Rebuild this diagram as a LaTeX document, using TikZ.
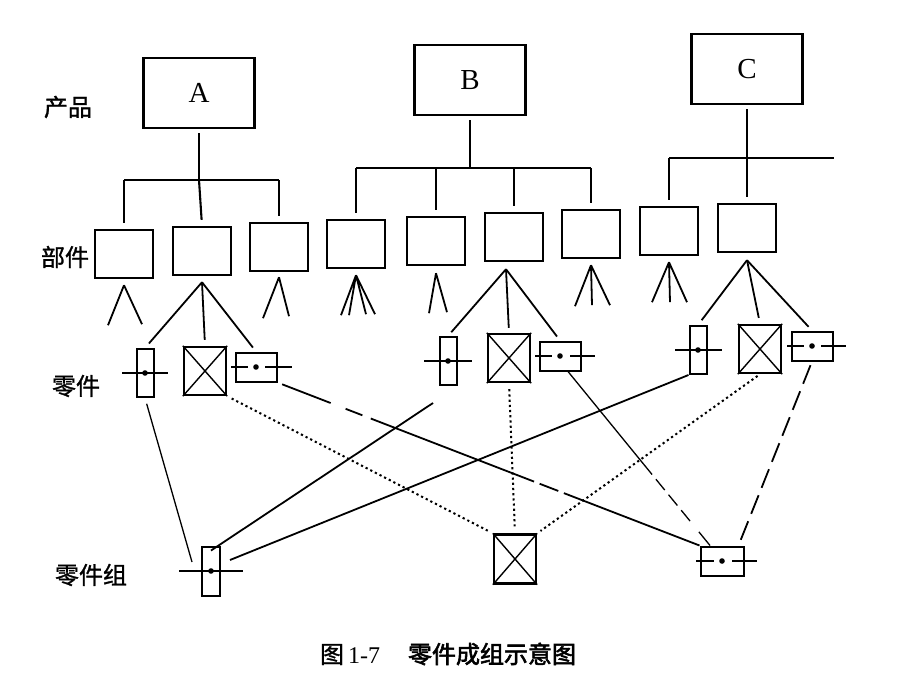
\documentclass[tikz,border=0pt]{standalone}
\usepackage{fontspec}
\setmainfont{Liberation Serif}
\newfontfamily\cjk{Noto Sans CJK SC}[FakeBold=1.2]
\newfontfamily\cjkbf{Noto Sans CJK SC}[FakeBold=2.4]

\begin{document}
\begin{tikzpicture}[x=1pt,y=-1pt]

\useasboundingbox (0,0) rectangle (920,690);
\tikzset{product/.style = {shape=rectangle,draw,line width=2.4pt,minimum width=111pt,minimum height=70pt,font=\fontsize{29}{30}\selectfont}}
\tikzset{unit/.style = {shape=rectangle,draw,line width=2.4pt,minimum width=58pt,minimum height=48pt}}
\tikzset{vpart/.style = {shape=rectangle,draw,line width=2pt,inner sep=0pt,minimum width=17pt,minimum height=48pt}}
\tikzset{xpart/.style = {shape=rectangle,draw,line width=2.4pt,inner sep=0pt,minimum width=42pt,minimum height=48pt}}
\tikzset{hpart/.style = {shape=rectangle,draw,line width=2pt,inner sep=0pt,minimum width=41pt,minimum height=29pt}}
\tikzset{level/.style = {font=\cjk\fontsize{24}{26}\selectfont}}
\tikzset{bus/.style = {line width=2.1pt}}
\tikzset{fan/.style = {line width=1.8pt}}
\tikzset{link/.style = {line width=1.8pt}}
\tikzset{dots/.style = {line width=2pt,dash pattern=on 2.2pt off 3pt}}

%labels
\node[level] (lp) at (68,107) {产品};
\node[level] (lu) at (65,257) {部件};
\node[level] (lq) at (76,386) {零件};
\node[level] (lg) at (91,575) {零件组};
\node[font=\fontsize{24}{26}\selectfont] (cap) at (448,654) {{\cjk 图}\,1-7\hspace{28pt}{\cjkbf 零件成组示意图}};

%products
\node[product] (A) at (199,93) {A};
\node[product] (B) at (470,80) {B};
\node[product] (C) at (747,69) {C};

%units
\node[unit] (u1) at (124,254) {};
\node[unit] (u2) at (202,251) {};
\node[unit] (u3) at (279,247) {};
\node[unit] (u4) at (356,244) {};
\node[unit] (u5) at (436,241) {};
\node[unit] (u6) at (514,237) {};
\node[unit] (u7) at (591,234) {};
\node[unit] (u8) at (669,231) {};
\node[unit] (u9) at (747,228) {};

%parts
\node[vpart] (a1) at (145,373) {};
\node[xpart] (a2) at (205,371) {};
\node[hpart] (a3) at (256,367) {};
\node[vpart] (b1) at (448,361) {};
\node[xpart] (b2) at (509,358) {};
\node[hpart] (b3) at (560,356) {};
\node[vpart] (c1) at (698,350) {};
\node[xpart] (c2) at (760,349) {};
\node[hpart] (c3) at (812,346) {};

%groups
\node[vpart,minimum width=18pt,minimum height=49pt] (g1) at (211,571) {};
\node[xpart,minimum height=49pt] (g2) at (515,559) {};
\node[hpart,minimum width=43pt] (g3) at (722,561) {};

%part marks
\draw[link] (a1.center) +(-23,0) -- +(23,0);
\draw[link] (b1.center) +(-24,0) -- +(24,0);
\draw[link] (c1.center) +(-23,0) -- +(24,0);
\draw[link] (g1.center) +(-32,0) -- +(32,0);
\draw[link] (a3.center) +(-25,0) -- +(-8,0) +(9,0) -- +(36,0);
\draw[link] (b3.center) +(-25,0) -- +(-8,0) +(10,0) -- +(35,0);
\draw[link] (c3.center) +(-25,0) -- +(-8,0) +(9,0) -- +(34,0);
\draw[link] (g3.center) +(-26,0) -- +(-8,0) +(10,0) -- +(35,0);
\foreach \p in {a1,a3,b1,b3,c1,c3,g1,g3}
  \fill (\p.center) circle (2.8);
\foreach \p in {a2,b2,c2,g2}
  \draw[line width=1.4pt] (\p.north west) -- (\p.south east) (\p.north east) -- (\p.south west);

%bus lines
\coordinate (busA) at (200,180);
\coordinate (busB) at (472,168);
\coordinate (busC) at (834,158);
\draw[bus,shorten <=4pt] (A.south) -- (A.south |- busA);
\draw[bus] (u1.north |- busA) -- (u3.north |- busA);
\draw[bus,shorten >=6pt] (A.south |- busA) -- (u2.north);
\draw[bus,shorten >=6pt] (u1.north |- busA) -- (u1.north);
\draw[bus,shorten >=6pt] (u3.north |- busA) -- (u3.north);
\draw[bus,shorten <=4pt] (B.south) -- (B.south |- busB);
\draw[bus] (u4.north |- busB) -- (u7.north |- busB);
\draw[bus,shorten >=6pt] (u4.north |- busB) -- (u4.north);
\draw[bus,shorten >=6pt] (u5.north |- busB) -- (u5.north);
\draw[bus,shorten >=6pt] (u6.north |- busB) -- (u6.north);
\draw[bus,shorten >=6pt] (u7.north |- busB) -- (u7.north);
\draw[bus,shorten <=4pt,shorten >=6pt] (C.south) -- (u9.north);
\draw[bus] (u8.north |- busC) -- (busC);
\draw[bus,shorten >=6pt] (u8.north |- busC) -- (u8.north);

%fans
\draw[fan] ([yshift=-6pt]u1.south) -- +(-16,40) ([yshift=-6pt]u1.south) -- +(18,39);
\draw[fan,shorten >=6pt] ([yshift=-6pt]u2.south) -- (a1.north);
\draw[fan,shorten >=6pt] ([yshift=-6pt]u2.south) -- (a2.north);
\draw[fan,shorten >=5pt] ([yshift=-6pt]u2.south) -- (a3.north);
\draw[fan] ([yshift=-5pt]u3.south) -- +(-16,41) ([yshift=-5pt]u3.south) -- +(10,39);
\draw[fan] ([yshift=-6pt]u4.south) -- +(-15,40) ([yshift=-6pt]u4.south) -- +(-7,40)
           ([yshift=-6pt]u4.south) -- +(10,39) ([yshift=-6pt]u4.south) -- +(19,39);
\draw[fan] ([yshift=-7pt]u5.south) -- +(-7,40) ([yshift=-7pt]u5.south) -- +(11,39);
\draw[fan,shorten >=5pt] ([xshift=-8pt,yshift=-7pt]u6.south) -- (b1.north);
\draw[fan,shorten >=5pt] ([xshift=-8pt,yshift=-7pt]u6.south) -- (b2.north);
\draw[fan,shorten >=5pt] ([xshift=-8pt,yshift=-7pt]u6.south) -- (b3.north);
\draw[fan] ([yshift=-6pt]u7.south) -- +(-16,41) ([yshift=-6pt]u7.south) -- +(1,40)
           ([yshift=-6pt]u7.south) -- +(19,40);
\draw[fan] ([yshift=-6pt]u8.south) -- +(-17,40) ([yshift=-6pt]u8.south) -- +(1,40)
           ([yshift=-6pt]u8.south) -- +(18,40);
\draw[fan,shorten >=6pt] ([yshift=-7pt]u9.south) -- (c1.north);
\draw[fan,shorten >=6pt] ([yshift=-7pt]u9.south) -- (c2.north);
\draw[fan,shorten >=5pt] ([yshift=-7pt]u9.south) -- (c3.north);

%links to groups
\draw[line width=1.3pt,shorten <=6pt] (a1.south) -- ([shift={(-9,-9)}]g1.west);
\draw[link] ([shift={(-15,17)}]b1.south) -- ([yshift=-5pt]g1.north);
\draw[link] (c1.south west) -- ([shift={(9,-11)}]g1.east);
\draw[dots,shorten <=5pt,shorten >=5pt] (a2.south east) -- (g2.north west);
\draw[dots,shorten <=6pt,shorten >=7pt] (b2.south) -- (g2.north);
\draw[dots,shorten <=3pt,shorten >=4pt] (c2.south) -- (g2.north east);
\draw[link,dash pattern=on 52pt off 16pt on 18pt off 9pt on 175pt off 6pt on 20pt off 6pt on 300pt,shorten <=5pt] (a3.south east) -- (g3.north west);
\draw[line width=1.3pt,dash pattern=on 133pt off 6pt on 14pt off 6pt on 14pt off 6pt on 14pt off 14pt on 40pt] ([xshift=8pt]b3.south) -- ([xshift=-12pt]g3.north);
\draw[link,dash pattern=on 20pt off 8pt,shorten <=4pt] (c3.south) -- ([xshift=-6pt]g3.north east);

\end{tikzpicture}
\end{document}
